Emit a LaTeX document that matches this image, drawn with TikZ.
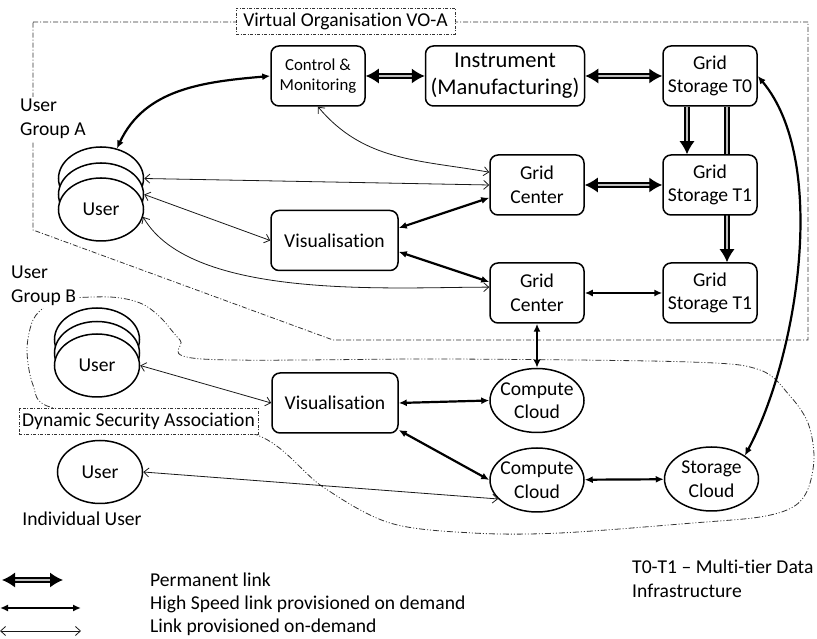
\documentclass[tikz,border=0pt]{standalone}
\usepackage{fontspec}
\setmainfont{Carlito}[Ligatures=NoCommon]
\usepackage{tikz}
\usetikzlibrary{arrows.meta,shapes.geometric}

\newcommand{\fsnorm}{\fontsize{19.6}{23.5}\selectfont}
\newcommand{\fssmall}{\fontsize{16.8}{20}\selectfont}
\newcommand{\fsbig}{\fontsize{22.5}{27}\selectfont}

\begin{document}
\begin{tikzpicture}[x=1pt, y=1pt,
    box/.style={draw, rounded corners=8pt, line width=1.5pt, fill=white,
      minimum width=94pt, minimum height=60pt, align=center, inner sep=1pt, font=\fsnorm},
    cloud/.style={draw, ellipse, line width=1.5pt, fill=white, minimum width=94pt,
      minimum height=64pt, inner xsep=-6pt, inner ysep=-2pt, align=center, font=\fsnorm},
    user/.style={draw, ellipse, line width=1.5pt, fill=white, minimum width=85pt,
      minimum height=63pt, inner sep=0pt, font=\fsnorm},
    tag/.style={draw=black!80, line width=0.6pt, dash pattern=on 3pt off 1.5pt on 1pt off 1.5pt,
      fill=white, inner sep=1pt, font=\fsnorm},
    plain/.style={font=\fsnorm, align=left, inner sep=2pt},
    voline/.style={black!80, line width=0.8pt, dash pattern=on 5pt off 2pt on 1pt off 2pt},
    dsaline/.style={black!80, line width=0.8pt, dash pattern=on 6pt off 2pt on 1pt off 2pt on 1pt off 2pt},
    permtip/.tip={Latex[length=13pt,width=15pt]},
    fasttip/.tip={Latex[length=8pt,width=7pt]},
    thintip/.tip={Straight Barb[length=5pt,width=9pt]},
    perm/.style={line width=1.4pt, double=gray!50, double distance=2.4pt},
    fast/.style={line width=2.2pt, {fasttip}-{fasttip}},
    thin/.style={line width=0.8pt, black!90, {thintip}-{thintip}}]
\useasboundingbox (0,0) rectangle (817,639);

% virtual organisation and security association
\draw[voline] (33,617) -- (808,617) -- (808,299) -- (333,299) -- (33,409) -- cycle;
\draw[dsaline] plot[smooth cycle, tension=0.55] coordinates {(60,340) (110,342) (140,336)
  (160,322) (180,299) (202,280) (450,280) (690,277) (760,269) (790,243) (808,216) (814,182)
  (808,150) (793,132) (760,122) (693,116) (560,106) (473,106) (390,116) (323,152) (257,204)
  (140,220) (50,232) (33,254) (27,289) (33,319) (47,334)};
\node[tag, minimum width=219pt, minimum height=26pt] (voTag) at (345.5,618) {Virtual Organisation VO-A};
\node[tag, minimum width=239pt, minimum height=26pt] (dsaTag) at (138.5,218) {Dynamic Security Association};

% users
\node[plain, fill=white, anchor=west] (grpA) at (18,520) {User\\Group A};
\node[user] (uA3) at (101,460.5) {};
\node[user] (uA2) at (101,444.5) {};
\node[user] (uA1) at (101,429.5) {User};
\node[plain, fill=white, anchor=west] (grpB) at (9,353) {User\\Group B};
\node[user] (uB3) at (97,299.5) {};
\node[user] (uB2) at (97,286) {};
\node[user] (uB1) at (97,273.5) {User};
\node[user] (uI) at (100,167) {User};
\node[plain] (indiv) at (82,120) {Individual User};

% grid
\node[box, font=\fssmall] (ctrl) at (318,563) {Control \&\\Monitoring};
\node[box, font=\fsbig, minimum width=159pt] (instr) at (505,563) {Instrument\\(Manufacturing)};
\node[box] (gsT0) at (710,563) {Grid\\Storage T0};
\node[box] (gcA) at (537,454) {Grid\\Center};
\node[box, minimum width=127pt] (visA) at (334.5,398.5) {Visualisation};
\node[box] (gcB) at (537,346) {Grid\\Center};
\node[box] (gsT1b) at (710,346) {Grid\\Storage T1};
\node[box, minimum width=126pt] (visB) at (335,236) {Visualisation};
\node[cloud] (ccA) at (537,238.5) {Compute\\Cloud};
\node[cloud] (ccB) at (537,159) {Compute\\Cloud};
\node[cloud] (sc) at (711.5,160) {Storage\\Cloud};

\draw[perm, -{permtip}] ([xshift=17pt]gsT0.south) -- ([xshift=17pt]gsT1b.north);
\node[box] (gsT1a) at (710,454) {Grid\\Storage T1};

% permanent links
\draw[perm, {permtip}-{permtip}] (ctrl) -- (instr);
\draw[perm, {permtip}-{permtip}] (instr) -- (gsT0);
\draw[perm, -{permtip}] ([xshift=-23pt]gsT0.south) -- ([xshift=-23pt]gsT1a.north);
\draw[perm, {permtip}-{permtip}] (gcA) -- (gsT1a);

% high speed links
\draw[fast] (uA3.62) to[out=65, in=185] (ctrl.west);
\draw[fast] (gcA.195) -- (visA.11);
\draw[fast] (visA.-10) -- (gcB.167);
\draw[fast] (gcB) -- (gsT1b);
\draw[fast] (gcB) -- (ccA);
\draw[fast] (visB.east) -- (ccA.west);
\draw[fast] (visB.-23) -- (ccB.west);
\draw[fast] (ccB) -- (sc);
\draw[fast] (gsT0.east) to[out=-50, in=62, looseness=0.75] (sc.35);

% on-demand links
\draw[thin] (ctrl.south) to[out=-50, in=170] (gcA.165);
\draw[thin] (uA3.east) -- (gcA.west);
\draw[thin] (uA2.east) -- (visA.west);
\draw[thin] (uA1.-10) to[out=-60, in=180, looseness=0.7] (gcB.173);
\draw[thin] (uB1.east) -- (visB.west);
\draw[thin] (uI.east) -- (ccB.206);

% legend
\coordinate (lpA) at (2,59);
\coordinate (lpB) at (63,59);
\coordinate (lhA) at (0,31);
\coordinate (lhB) at (81,31);
\coordinate (ltA) at (0,8);
\coordinate (ltB) at (81,8);
\draw[perm, {permtip}-{permtip}] (lpA) -- (lpB);
\draw[fast] (lhA) -- (lhB);
\draw[thin] (ltA) -- (ltB);
\node[plain, anchor=west] (legPerm) at (148,59) {Permanent link};
\node[plain, anchor=west] (legFast) at (148,35) {High Speed link provisioned on demand};
\node[plain, anchor=west] (legThin) at (148,12) {Link provisioned on-demand};
\node[plain, anchor=west] (tiers) at (630,60) {T0-T1 – Multi-tier Data\\Infrastructure};
\end{tikzpicture}
\end{document}
